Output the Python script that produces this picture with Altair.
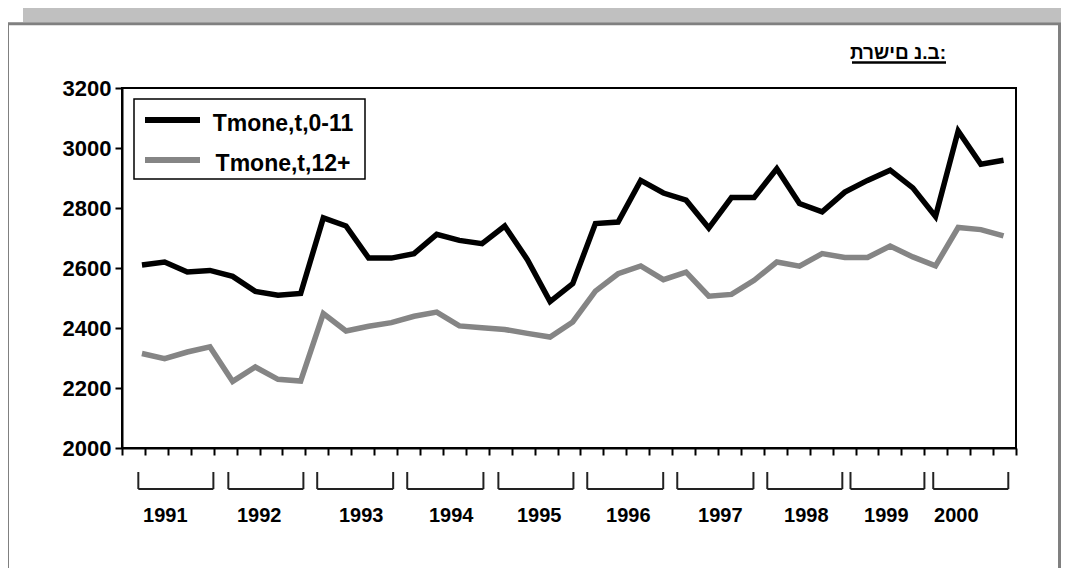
import altair as alt
import pandas as pd

# ---------------- data ----------------
quarters = list(range(39))  # 1991Q1 .. 2000Q3
young = [2610, 2620, 2587, 2592, 2572, 2522, 2509, 2515,
         2767, 2740, 2633, 2633, 2648, 2712, 2692, 2681,
         2740, 2628, 2488, 2548, 2748, 2753, 2892, 2850,
         2826, 2733, 2835, 2835, 2931, 2815, 2787, 2853,
         2892, 2926, 2867, 2772, 3057, 2946, 2959]
old = [2315, 2298, 2320, 2337, 2222, 2270, 2229, 2223,
       2448, 2390, 2406, 2418, 2439, 2453, 2407, 2401,
       2395, 2382, 2370, 2420, 2523, 2581, 2607, 2561,
       2586, 2506, 2512, 2559, 2620, 2606, 2648, 2635,
       2635, 2673, 2637, 2607, 2735, 2728, 2707]
series_names = ["Tmone,t,0-11", "Tmone,t,12+"]
years = [str(y) for y in range(1991, 2001)]
y_ticks = [2000, 2200, 2400, 2600, 2800, 3000, 3200]
title_text = "תרשים נ.ב:"

# ---------------- layout (quarter-index units, as drawn) ----------------
bracket_start = [-0.16, 3.81, 7.73, 11.70, 15.72, 19.64, 23.61, 27.58, 31.25, 34.90]
bracket_end = [3.15, 7.12, 11.08, 15.06, 19.03, 22.99, 26.97, 30.89, 34.51, 38.21]
label_pos = [1.03, 5.17, 9.67, 13.64, 17.52, 21.45, 25.51, 29.30, 32.83, 35.92]
series_colors = ["#000000", "#858585"]
X0, X1 = -0.88, 38.55
x_ticks = [round(X0 + k * (X1 - X0) / 39, 4) for k in range(40)]

FONT = "Liberation Sans, Arial, DejaVu Sans"

xscale = alt.Scale(domain=[X0, X1], nice=False, zero=False)
yscale = alt.Scale(domain=[2000, 3200], nice=False, zero=False)
xaxis = alt.Axis(values=x_ticks, labels=False, title=None, grid=False,
                 domainColor="black", domainWidth=2, tickColor="black",
                 tickWidth=2, tickSize=7)
yaxis = alt.Axis(values=y_ticks, format="d", title=None, grid=False,
                 domainColor="black", domainWidth=2, tickColor="black",
                 tickWidth=2, tickSize=7, labelFont=FONT,
                 labelFontWeight="bold", labelFontSize=22,
                 labelColor="black", labelPadding=4)


def X(field):
    return alt.X(field, type="quantitative", scale=xscale, axis=xaxis)


one = pd.DataFrame({"k": [0]})

# background decorations (sheet band and frame)
band_top = alt.Chart(one).mark_rect(color="#c0c0c0").encode(
    x=alt.value(-99), x2=alt.value(947), y=alt.value(-90), y2=alt.value(-66))
frame = alt.Chart(one).mark_rect(fillOpacity=0, stroke="#808080", strokeWidth=3).encode(
    x=alt.value(-114.5), x2=alt.value(937.5), y=alt.value(-64.2), y2=alt.value(600))

# title: the sheet shows the Hebrew glyphs in left-to-right order
title_df = pd.DataFrame({"t": ["\u202d" + title_text + "\u202c"]})
title = alt.Chart(title_df).mark_text(
    font=FONT, fontWeight="bold", fontSize=19, align="right",
    baseline="alphabetic", color="black").encode(
    text="t:N", x=alt.value(824), y=alt.value(-29.5))
underline = alt.Chart(one).mark_rule(color="black", strokeWidth=2.5).encode(
    x=alt.value(730), x2=alt.value(824), y=alt.value(-25.5))

# lines
df = pd.DataFrame({
    "q": quarters * 2,
    "value": young + old,
    "series": [series_names[0]] * len(young) + [series_names[1]] * len(old),
})
lines = alt.Chart(df).mark_line(strokeWidth=5.5).encode(
    x=X("q"),
    y=alt.Y("value:Q", scale=yscale, axis=yaxis),
    color=alt.Color("series:N", scale=alt.Scale(domain=series_names, range=series_colors),
                    legend=None),
)

# legend (drawn)
legend_box = alt.Chart(one).mark_rect(fill="white", stroke="black", strokeWidth=1.5).encode(
    x=alt.value(12), x2=alt.value(243), y=alt.value(11), y2=alt.value(91))
legend_layers = [legend_box]
for i, name in enumerate(series_names):
    ldf = pd.DataFrame({"s": [name]})
    legend_layers.append(
        alt.Chart(ldf).mark_rule(strokeWidth=6, color=series_colors[i]).encode(
            x=alt.value(23), x2=alt.value(78), y=alt.value(32 + 40 * i)))
    legend_layers.append(
        alt.Chart(ldf).mark_text(font=FONT, fontWeight="bold", fontSize=23,
                                 align="center", baseline="alphabetic",
                                 color="black").encode(
            text="s:N", x=alt.value(161), y=alt.value(42.5 + 40.5 * i)))

# year brackets and labels
ydf = pd.DataFrame({"year": years, "start": bracket_start, "end": bracket_end,
                    "lab": label_pos})
br_h = alt.Chart(ydf).mark_rule(color="#222222", strokeWidth=2).encode(
    x=X("start"), x2="end:Q", y=alt.value(401))
br_l = alt.Chart(ydf).mark_rule(color="#222222", strokeWidth=2).encode(
    x=X("start"), y=alt.value(384), y2=alt.value(401))
br_r = alt.Chart(ydf).mark_rule(color="#222222", strokeWidth=2).encode(
    x=X("end"), y=alt.value(384), y2=alt.value(401))
year_labels = alt.Chart(ydf).mark_text(font=FONT, fontWeight="bold", fontSize=20,
                                       align="center", baseline="alphabetic",
                                       color="black").encode(
    x=X("lab"), y=alt.value(433.5), text="year:N")

chart = alt.layer(
    band_top, frame, title, underline,
    lines, *legend_layers, br_h, br_l, br_r, year_labels,
).properties(
    width=894, height=360,
    padding={"left": 114, "top": 80, "right": 45, "bottom": 120},
    autosize=alt.AutoSizeParams(type="none"),
    background="white",
).configure_view(stroke="black", strokeWidth=2)

chart.save("out.html", embed_options={"renderer": "svg", "actions": False})
